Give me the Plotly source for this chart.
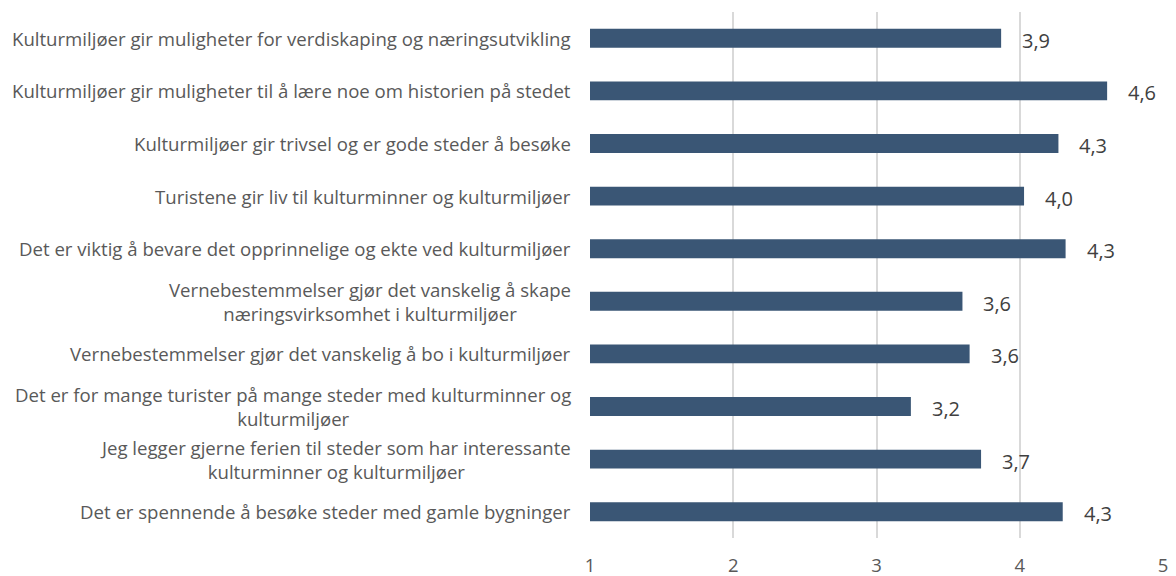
import plotly.graph_objects as go

categories = [
    "Kulturmiljøer gir muligheter for verdiskaping og næringsutvikling",
    "Kulturmiljøer gir muligheter til å lære noe om historien på stedet",
    "Kulturmiljøer gir trivsel og er gode steder å besøke",
    "Turistene gir liv til kulturminner og kulturmiljøer",
    "Det er viktig å bevare det opprinnelige og ekte ved kulturmiljøer",
    "Vernebestemmelser gjør det vanskelig å skape<br>næringsvirksomhet i kulturmiljøer",
    "Vernebestemmelser gjør det vanskelig å bo i kulturmiljøer",
    "Det er for mange turister på mange steder med kulturminner og<br>kulturmiljøer",
    "Jeg legger gjerne ferien til steder som har interessante<br>kulturminner og kulturmiljøer",
    "Det er spennende å besøke steder med gamle bygninger",
]
values = [3.87, 4.61, 4.27, 4.03, 4.32, 3.60, 3.65, 3.24, 3.73, 4.30]
value_labels = ["3,9", "4,6", "4,3", "4,0", "4,3", "3,6", "3,6", "3,2", "3,7", "4,3"]
x_ticks = [1, 2, 3, 4, 5]

FONT = "Open Sans"
TXT = "#595959"
VTXT = "#404040"

fig = go.Figure(go.Bar(
    x=[v - 1 for v in values], y=categories, orientation="h",
    base=1,
    marker=dict(color="#3A5675", line=dict(width=0)),
    hoverinfo="skip",
))

annotations = []
for cat, v, lab in zip(categories, values, value_labels):
    annotations.append(dict(x=v, y=cat, xref="x", yref="y", text=lab, showarrow=False,
                            xanchor="left", yanchor="middle", xshift=19, yshift=-2,
                            font=dict(family=FONT, size=20, color=VTXT)))
    annotations.append(dict(x=0, y=cat, xref="paper", yref="y", text=cat, showarrow=False,
                            xanchor="right", yanchor="middle", align="center", xshift=-17,
                            font=dict(family=FONT, size=18.6, color=TXT)))

fig.update_layout(
    width=1168, height=568,
    margin=dict(l=582, r=13, t=4, b=38, autoexpand=False),
    paper_bgcolor="white", plot_bgcolor="white",
    bargap=0.64,
    showlegend=False,
    annotations=annotations,
    xaxis=dict(range=[1, 5], tickvals=x_ticks, showgrid=True, gridcolor="#D9D9D9", gridwidth=1.5,
               zeroline=False, showline=False, ticks="", ticklabelstandoff=14,
               tickfont=dict(family=FONT, size=18.5, color=TXT)),
    yaxis=dict(categoryorder="array", categoryarray=categories, autorange="reversed",
               showticklabels=False, showgrid=False, zeroline=False, showline=False, ticks=""),
)

fig.write_html("out.html")
